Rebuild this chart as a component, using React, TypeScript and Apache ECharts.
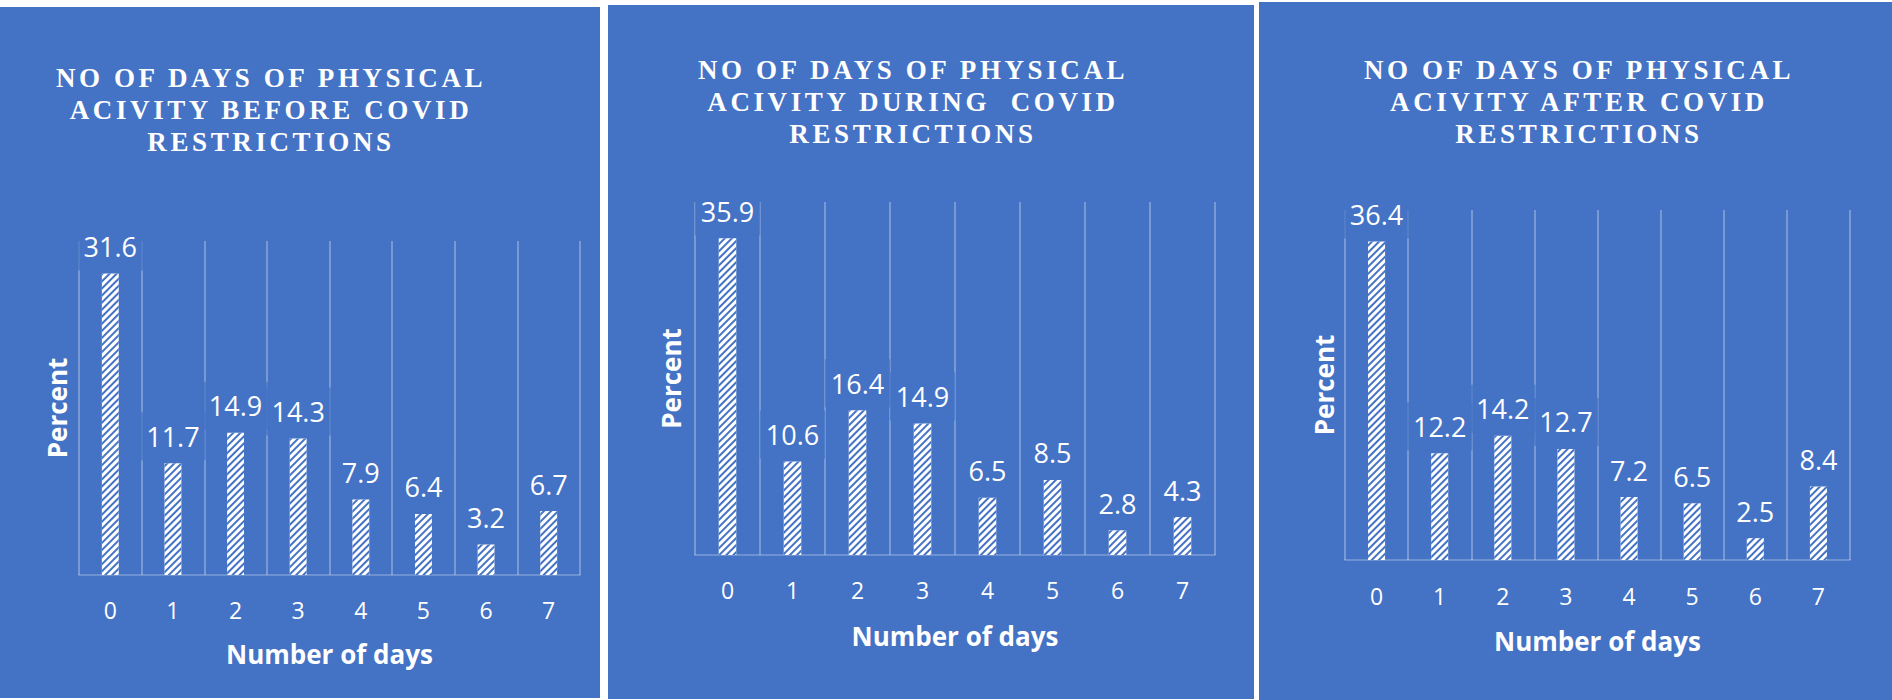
import React, { useEffect, useRef } from "react";
import * as echarts from "echarts";

// ---- data ----
const categories = ["0", "1", "2", "3", "4", "5", "6", "7"];
const beforeValues = [31.6, 11.7, 14.9, 14.3, 7.9, 6.4, 3.2, 6.7];
const duringValues = [35.9, 10.6, 16.4, 14.9, 6.5, 8.5, 2.8, 4.3];
const afterValues = [36.4, 12.2, 14.2, 12.7, 7.2, 6.5, 2.5, 8.4];
const yMaxima = [35, 40, 40];
const titles = [
  "NO OF DAYS OF PHYSICAL\nACIVITY BEFORE COVID\nRESTRICTIONS",
  "NO OF DAYS OF PHYSICAL\nACIVITY DURING  COVID\nRESTRICTIONS",
  "NO OF DAYS OF PHYSICAL\nACIVITY AFTER COVID\nRESTRICTIONS",
];
const xAxisName = "Number of days";
const yAxisName = "Percent";

// ---- layout (pixels) ----
const panels = [
  { bg: [0, 7, 600, 691], grid: [79, 241, 501, 334], titleX: 271, titleTop: 62, xNameGap: 66, yNameGap: 9, labelMargin: 23 },
  { bg: [608, 5, 646, 694], grid: [695, 202, 520, 353], titleX: 913, titleTop: 54, xNameGap: 68, yNameGap: 11, labelMargin: 23 },
  { bg: [1259, 2, 633, 698], grid: [1345, 210, 505, 350], titleX: 1579, titleTop: 54, xNameGap: 68, yNameGap: 8, labelMargin: 24 },
];

const BLUE = "#4472C4";
const SANS = "Open Sans";
const TITLE_SPACING = "3.6px";

export default function App() {
  const ref = useRef<HTMLDivElement>(null);

  useEffect(() => {
    if (!ref.current) return;
    const chart = echarts.init(ref.current, null, { renderer: "svg" });
    const seriesValues = [beforeValues, duringValues, afterValues];

    const option: any = {
      animation: false,
      backgroundColor: "#ffffff",
      graphic: {
        elements: panels.map((p) => ({
          type: "rect",
          silent: true,
          z: -10,
          shape: { x: p.bg[0], y: p.bg[1], width: p.bg[2], height: p.bg[3] },
          style: { fill: BLUE },
        })),
      },
      title: panels.map((p, i) => ({
        text: titles[i],
        left: p.titleX,
        top: p.titleTop,
        padding: 0,
        textAlign: "center",
        textStyle: {
          color: "#ffffff",
          fontFamily: "Liberation Serif",
          fontWeight: "bold",
          fontSize: 27,
          lineHeight: 32,
        },
      })),
      grid: panels.map((p) => ({
        left: p.grid[0],
        top: p.grid[1],
        width: p.grid[2],
        height: p.grid[3],
        containLabel: false,
      })),
      xAxis: panels.map((p, i) => ({
        type: "category",
        gridIndex: i,
        data: categories,
        boundaryGap: true,
        axisTick: { show: false },
        axisLine: { show: true, lineStyle: { color: "rgba(255,255,255,0.3)", width: 1.5 } },
        splitLine: { show: true, lineStyle: { color: "rgba(255,255,255,0.28)", width: 2 } },
        axisLabel: { color: "#ffffff", fontFamily: SANS, fontSize: 23, margin: p.labelMargin },
        name: xAxisName,
        nameLocation: "middle",
        nameGap: p.xNameGap,
        nameTextStyle: { color: "#ffffff", fontFamily: SANS, fontWeight: "bold", fontSize: 26 },
      })),
      yAxis: panels.map((p, i) => ({
        type: "value",
        gridIndex: i,
        min: 0,
        max: yMaxima[i],
        axisLabel: { show: false },
        axisLine: { show: false },
        axisTick: { show: false },
        splitLine: { show: false },
        name: yAxisName,
        nameLocation: "middle",
        nameRotate: 90,
        nameGap: p.yNameGap,
        nameTextStyle: { color: "#ffffff", fontFamily: SANS, fontWeight: "bold", fontSize: 26 },
      })),
      series: panels.map((p, i) => ({
        type: "bar",
        xAxisIndex: i,
        yAxisIndex: i,
        data: seriesValues[i],
        barWidth: "27%",
        itemStyle: {
          color: "#ffffff",
          decal: {
            symbol: "rect",
            symbolSize: 1,
            color: BLUE,
            dashArrayX: [1, 0],
            dashArrayY: [1.4, 2.2],
            rotation: -Math.PI / 4,
          },
        },
        label: {
          show: true,
          position: "top",
          distance: 3,
          color: "#ffffff",
          fontFamily: SANS,
          fontSize: 27,
          lineHeight: 28,
          backgroundColor: "rgba(68,114,196,0.72)",
          padding: [10, 6, 10, 6],
        },
      })),
    };

    chart.setOption(option);

    // widen the serif title lines like the original's letter-spaced caps
    const applySpacing = () => {
      if (!ref.current) return;
      ref.current.querySelectorAll("text").forEach((t) => {
        const ff = window.getComputedStyle(t).fontFamily || "";
        const st = t.getAttribute("style") || "";
        if (ff.includes("Liberation Serif") || st.includes("Liberation Serif")) {
          t.setAttribute("letter-spacing", TITLE_SPACING);
          (t as any).style.letterSpacing = TITLE_SPACING;
        }
      });
    };
    applySpacing();
    const raf = requestAnimationFrame(applySpacing);

    return () => {
      cancelAnimationFrame(raf);
      chart.dispose();
    };
  }, []);

  return (
    <div
      ref={ref}
      style={{ position: "absolute", left: 0, top: 0, width: 1892, height: 700 }}
    />
  );
}
